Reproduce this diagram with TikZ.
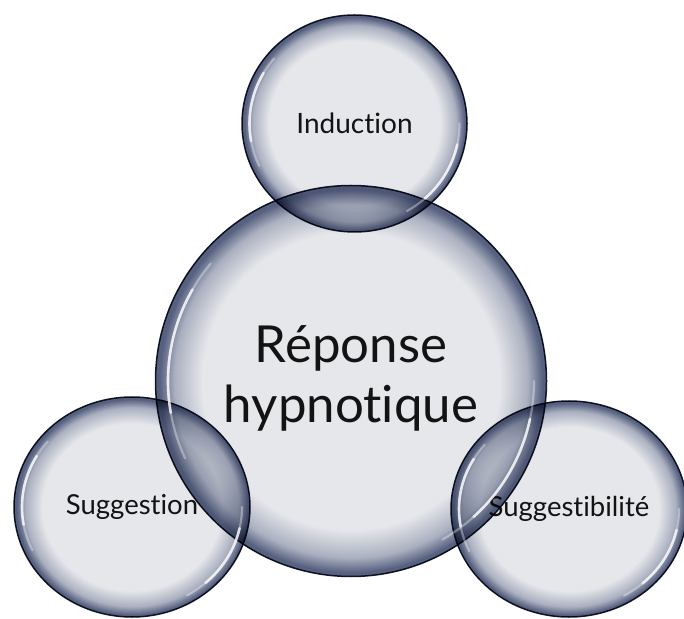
\documentclass[tikz,border=0pt]{standalone}
\usepackage{fontspec}
\setmainfont{Lato}[Ligatures={NoCommon,NoRare,NoDiscretionary}]
\usetikzlibrary{shapes.geometric}
\definecolor{bubIn}{HTML}{E6E7EB}
\definecolor{bubMid}{HTML}{AAB0C0}
\definecolor{bubDark}{HTML}{56607F}
\definecolor{bubLine}{HTML}{161D2E}
\definecolor{txt}{HTML}{161616}
\pgfdeclareradialshading{bubble}{\pgfpoint{0bp}{0bp}}{color(0bp)=(bubIn); color(19bp)=(bubIn); color(22.6bp)=(bubMid); color(24.5bp)=(bubDark); color(25bp)=(bubDark); color(50bp)=(bubDark)}
\begin{document}
\begin{tikzpicture}[x=1pt,y=1pt,
  bubblenode/.style={ellipse, inner sep=0pt, shading=bubble, draw=bubLine, line width=1.5pt, blend mode=multiply, text=txt, align=center},
  hlsoft/.style={white, line width=2.2pt, line cap=round, opacity=0.35},
  hlstrong/.style={white, line width=2.6pt, line cap=round, opacity=0.75}]
\useasboundingbox (0,0) rectangle (684,618);
\fill[white] (0,0) rectangle (684,618);
\node[bubblenode, minimum width=391pt, minimum height=391pt, font=\fontsize{51}{60}\selectfont] (resp) at (351,237) {\raisebox{-7pt}{\begin{tabular}{@{}c@{}}Réponse\\hypnotique\end{tabular}}};
\node[bubblenode, minimum width=225pt, minimum height=217pt, font=\fontsize{28}{32}\selectfont] (ind) at (354.5,494.5) {\raisebox{-3pt}{Induction}};
\node[bubblenode, minimum width=236pt, minimum height=220pt, font=\fontsize{27.5}{32}\selectfont] (sug) at (132,111) {Suggestion};
\node[bubblenode, minimum width=236pt, minimum height=216pt, font=\fontsize{27.5}{32}\selectfont] (sgb) at (569,109) {Suggestibilité};
% highlights
\foreach \n/\rx/\ry in {resp/183/183, ind/105/101, sug/110/102, sgb/110/100}{
  \draw[hlsoft] (\n.center) ++(140:\rx pt and \ry pt) arc[start angle=140, end angle=205, x radius=\rx pt, y radius=\ry pt];
  \draw[hlstrong] (\n.center) ++(150:\rx pt and \ry pt) arc[start angle=150, end angle=190, x radius=\rx pt, y radius=\ry pt];
  \draw[hlsoft] (\n.center) ++(-60:\rx pt and \ry pt) arc[start angle=-60, end angle=0, x radius=\rx pt, y radius=\ry pt];
  \draw[hlstrong] (\n.center) ++(-48:\rx pt and \ry pt) arc[start angle=-48, end angle=-12, x radius=\rx pt, y radius=\ry pt];
}
\end{tikzpicture}
\end{document}
